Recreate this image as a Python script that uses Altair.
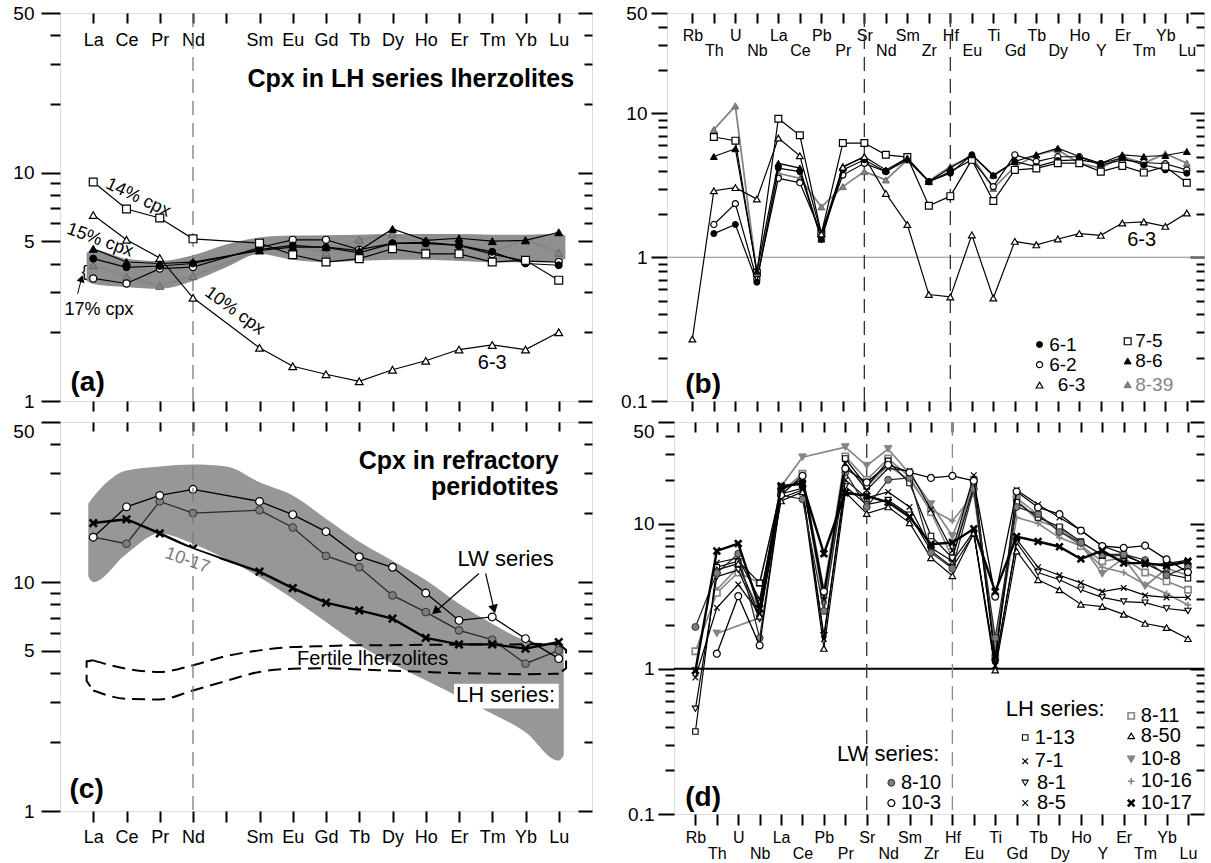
import altair as alt
import pandas as pd

FONT = "Liberation Sans"
BLACK = "#000000"
GRAY = "#858585"
BAND = "#8f8f8f"
FIELD = "#979797"

# ---------------- element lists ----------------
REE = ["La", "Ce", "Pr", "Nd", "Pm", "Sm", "Eu", "Gd", "Tb", "Dy", "Ho", "Er", "Tm", "Yb", "Lu"]
REE_SHOWN = ["La", "Ce", "Pr", "Nd", "", "Sm", "Eu", "Gd", "Tb", "Dy", "Ho", "Er", "Tm", "Yb", "Lu"]
SPIDER = ["Rb", "Th", "U", "Nb", "La", "Ce", "Pb", "Pr", "Sr", "Nd", "Sm", "Zr",
          "Hf", "Eu", "Ti", "Gd", "Tb", "Dy", "Ho", "Y", "Er", "Tm", "Yb", "Lu"]

Y_MAJOR_A = [1, 5, 10, 50]
Y_MINOR_A = [2, 3, 4, 6, 7, 8, 9, 20, 30, 40]
Y_MAJOR_B = [0.1, 1, 10, 50]
Y_MINOR_B = [0.2, 0.3, 0.4, 0.5, 0.6, 0.7, 0.8, 0.9, 2, 3, 4, 5, 6, 7, 8, 9, 20, 30, 40]

# ---------------- panel (a): cpx in LH lherzolites, REE ----------------
a_6_1 = [4.2, 3.85, 3.9, 4.0, None, 4.6, 4.8, 4.7, 4.45, 4.9, 4.9, 4.8, 4.5, 4.0, 3.93]
a_6_2 = [3.44, 3.27, 3.8, 3.86, None, 4.7, 5.08, 5.08, 4.6, 4.9, 4.95, 4.8, 4.4, 4.1, 4.06]
a_6_3 = [6.52, 5.08, 4.23, 2.83, None, 1.71, 1.42, 1.31, 1.22, 1.37, 1.50, 1.68, 1.76, 1.68, 2.0]
a_7_5 = [9.1, 6.93, 6.33, 5.13, None, 4.91, 4.37, 4.06, 4.2, 4.64, 4.41, 4.41, 4.06, 4.13, 3.38]
a_8_6 = [4.64, 4.06, 4.0, 4.06, None, 4.56, 4.72, 4.72, 4.56, 5.67, 5.05, 5.16, 5.01, 5.05, 5.48]
a_8_39 = [3.93, 3.5, 3.19, 3.52, None, 4.6, 4.8, 4.46, 5.08, 5.4, 4.8, 4.9, 4.5, 5.1, 4.46]
a_band_x = [-0.2, 0, 1, 2, 3, 4, 5, 6, 7, 8, 9, 10, 11, 12, 13, 14, 14.2]
a_band_lo = [3.35, 3.25, 3.15, 3.1, 3.35, 3.85, 4.4, 4.15, 4.05, 4.1, 4.15, 4.15, 4.1, 4.05, 4.05, 4.1, 4.2]
a_band_hi = [4.45, 4.6, 4.2, 4.1, 4.35, 4.85, 5.2, 5.3, 5.32, 5.35, 5.38, 5.38, 5.38, 5.35, 5.35, 5.4, 5.3]

# ---------------- panel (b): cpx in LH lherzolites, spider ----------------
b_6_1 = [None, 1.46, 1.69, 0.67, 4.17, 3.94, 1.33, 4.05, 4.76, 3.94, 4.76, 3.36, 3.84, 5.16, 3.68, 4.63, 4.27, 4.7, 4.76, 4.5, 4.9, 4.38, 4.05, 3.84]
b_6_2 = [None, 1.69, 2.36, 0.70, 3.54, 3.3, 1.46, 3.73, 4.5, 3.94, 4.9, 3.36, 3.94, 4.76, 3.1, 5.16, 4.63, 5.0, 5.0, 4.38, 4.76, 4.56, 4.47, 4.05]
b_6_3 = [0.27, 2.9, 3.05, 2.54, 6.75, 5.08, 1.45, 4.23, 5.0, 2.78, 1.69, 0.55, 0.53, 1.43, 0.52, 1.29, 1.22, 1.34, 1.46, 1.42, 1.73, 1.76, 1.64, 2.03]
b_7_5 = [None, 6.86, 6.47, 0.78, 9.2, 7.05, 1.46, 6.23, 6.23, 5.16, 4.97, 2.28, 2.66, 4.76, 2.46, 4.05, 4.15, 4.51, 4.51, 3.94, 4.32, 3.88, 4.27, 3.3]
b_8_6 = [None, 5.02, 5.69, 0.80, 4.5, 4.17, 1.34, 4.27, 5.0, 4.05, 4.9, 3.36, 4.17, 5.16, 3.73, 4.63, 5.16, 5.74, 5.02, 4.5, 5.16, 5.02, 5.1, 5.44]
b_8_39 = [None, 7.73, 11.3, 0.76, 3.84, 3.54, 2.24, 3.1, 3.94, 3.45, 4.76, 3.39, 4.27, 5.02, 3.01, 4.27, 5.16, 5.6, 4.51, 4.17, 5.0, 4.51, 5.25, 4.51]

# ---------------- panel (c): cpx in refractory peridotites, REE ----------------
c_8_10 = [15.7, 14.7, 22.5, 20.0, None, 20.6, 17.3, 13.0, 11.6, 8.74, 7.39, 6.15, 5.6, 4.4, 5.03]
c_10_3 = [15.7, 21.3, 23.9, 25.4, None, 22.5, 19.7, 16.6, 12.9, 11.6, 8.95, 6.8, 7.04, 5.66, 4.63]
c_10_17 = [18.1, 18.8, 16.3, 14.0, None, 11.1, 9.41, 8.13, 7.52, 6.92, 5.7, 5.34, 5.34, 5.12, 5.47]
c_field_x = [-0.15, 0, 1, 2, 3, 4, 5, 6, 7, 8, 9, 10, 11, 12, 13, 14, 14.15]
c_field_lo = [10.6, 10.0, 13.3, 16.3, 14.7, 12.6, 10.5, 8.46, 6.69, 5.29, 4.4, 3.72, 3.15, 2.66, 2.21, 1.66, 1.75]
c_field_hi = [22.0, 23.5, 30.7, 32.0, 32.6, 32.0, 27.3, 23.9, 18.9, 15.0, 12.4, 10.2, 8.04, 6.58, 5.56, 5.29, 5.05]
c_fert_x = [0, 1, 2, 3, 4, 5, 6, 7, 8, 9, 10, 11, 12, 13, 14]
c_fert_hi = [4.55, 4.18, 4.05, 4.33, 4.75, 5.03, 5.2, 5.25, 5.3, 5.3, 5.32, 5.33, 5.33, 5.35, 5.37]
c_fert_lo = [3.36, 3.09, 3.07, 3.36, 3.7, 4.05, 4.18, 4.2, 4.15, 4.1, 4.05, 4.0, 3.98, 3.96, 3.98]
c_fert_capL_x = [0, -0.2, -0.2, 0]
c_fert_capL_y = [4.55, 4.5, 3.7, 3.36]
c_fert_capR_x = [14, 14.22, 14.22, 14]
c_fert_capR_y = [5.37, 5.05, 4.2, 3.98]

# ---------------- panel (d): cpx in refractory peridotites, spider ----------------
d_8_10 = [1.94, 4.56, 6.2, 1.63, 15.7, 14.7, 2.5, 22.5, 13.0, 20.0, 20.6, 6.3, 4.9, 17.3, 1.63, 13.0, 11.6, 8.74, 7.39, 6.1, 6.15, 5.6, 4.4, 5.03]
d_10_3 = [None, 1.27, 3.16, 1.45, 15.7, 21.3, 3.4, 23.9, 19.2, 25.4, 22.5, 20.6, 21.3, 19.7, 3.14, 16.6, 12.9, 11.6, 8.95, 7.0, 6.8, 7.04, 5.66, 4.63]
d_1_13 = [0.37, 5.0, 5.5, 3.9, 17.5, 19.0, 3.2, 28.0, 18.0, 27.0, 19.0, 8.2, 5.8, 18.0, 1.15, 14.0, 11.0, 9.5, 7.5, 6.0, 6.0, 5.3, 4.5, 4.2]
d_7_1 = [None, 5.37, 5.8, 3.0, 17.0, 20.0, 3.0, 26.0, 17.0, 24.0, 23.0, 12.5, 6.5, 21.5, 1.2, 17.0, 13.5, 11.0, 9.0, 7.0, 6.2, 5.2, 5.3, 5.6]
d_8_1 = [0.53, 4.3, 4.8, 2.2, 15.0, 17.0, 1.7, 18.0, 13.5, 14.5, 11.5, 6.5, 5.0, 8.5, 1.1, 7.4, 4.6, 4.1, 3.5, 3.1, 2.9, 2.85, 2.6, 2.5]
d_8_5 = [0.87, 2.63, 3.8, 2.4, 16.0, 17.5, 1.6, 20.0, 15.0, 16.5, 13.0, 6.8, 5.5, 8.8, 1.05, 7.8, 5.0, 4.4, 3.9, 3.4, 3.6, 3.2, 3.1, 3.1]
d_8_11 = [1.32, 3.33, 4.6, 3.9, 16.5, 22.0, 3.5, 29.0, 20.0, 28.0, 21.0, 12.0, 5.8, 20.0, 1.2, 15.0, 11.5, 9.0, 7.0, 5.5, 5.8, 4.6, 4.0, 3.5]
d_8_50 = [None, 4.8, 5.3, 2.3, 14.3, 16.5, 1.38, 16.4, 11.7, 13.0, 10.1, 5.8, 4.37, 8.6, 0.98, 6.45, 4.1, 3.49, 2.78, 2.68, 2.37, 2.05, 1.92, 1.61]
d_10_8 = [None, 1.75, None, 2.24, 18.0, 28.6, None, 33.6, 25.0, 32.6, 22.0, 13.6, 8.2, 19.0, 1.3, 14.5, 10.5, 9.3, 7.2, 4.5, 5.8, 3.7, 4.9, 4.4]
d_10_16 = [None, 3.5, 5.0, 2.5, 17.0, 20.0, 2.8, 25.0, 18.0, 25.0, 20.0, 12.5, 10.4, 16.0, 1.4, 11.0, 10.0, 8.0, 7.0, 5.0, 4.6, 3.8, 3.3, 2.75]
d_10_17 = [0.97, 6.47, 7.28, 2.6, 18.1, 18.8, 6.2, 16.3, 15.5, 14.0, 11.1, 7.2, 7.4, 9.2, 3.4, 8.13, 7.52, 6.92, 5.7, 6.5, 5.34, 5.34, 5.12, 5.47]

# ---------------- marker styles ----------------
X_PATH = "M-1,-1L1,1M-1,1L1,-1"
PLUS_PATH = "M-1,0L1,0M0,-1L0,1"
PATCH_PATH = "M-1,-0.36L1,-0.36L1,0.36L-1,0.36Z"
STYLE = {
    "6-1": dict(shape="circle", fill=BLACK, stroke=BLACK, sw=1.0, size=48, line=BLACK, lw=1.2),
    "6-2": dict(shape="circle", fill="white", stroke=BLACK, sw=1.2, size=50, line=BLACK, lw=1.2),
    "6-3": dict(shape="triangle-up", fill="white", stroke=BLACK, sw=1.2, size=60, line=BLACK, lw=1.2),
    "7-5": dict(shape="square", fill="white", stroke=BLACK, sw=1.2, size=62, line=BLACK, lw=1.2),
    "8-6": dict(shape="triangle-up", fill=BLACK, stroke=BLACK, sw=1.0, size=64, line=BLACK, lw=1.2),
    "8-39": dict(shape="triangle-up", fill=GRAY, stroke="#666666", sw=1.0, size=64, line=GRAY, lw=1.8),
    "8-10": dict(shape="circle", fill="#7d7d7d", stroke="#333333", sw=1.0, size=60, line="#2a2a2a", lw=1.3),
    "10-3": dict(shape="circle", fill="white", stroke=BLACK, sw=1.2, size=60, line=BLACK, lw=1.3),
    "10-17": dict(shape=X_PATH, fill="transparent", stroke=BLACK, sw=2.6, size=55, line=BLACK, lw=2.4),
    "1-13": dict(shape="square", fill="white", stroke=BLACK, sw=1.1, size=38, line=BLACK, lw=1.2),
    "7-1": dict(shape=X_PATH, fill="transparent", stroke=BLACK, sw=1.2, size=40, line=BLACK, lw=1.2),
    "8-1": dict(shape="triangle-down", fill="white", stroke=BLACK, sw=1.1, size=48, line=BLACK, lw=1.2),
    "8-5": dict(shape=X_PATH, fill="transparent", stroke=BLACK, sw=1.2, size=40, line=BLACK, lw=1.2),
    "8-11": dict(shape="square", fill="white", stroke=GRAY, sw=1.6, size=50, line=GRAY, lw=1.6),
    "8-50": dict(shape="triangle-up", fill="white", stroke=BLACK, sw=1.2, size=52, line=BLACK, lw=1.2),
    "10-8": dict(shape="triangle-down", fill=GRAY, stroke=GRAY, sw=1.0, size=75, line=GRAY, lw=1.7),
    "10-16": dict(shape=PLUS_PATH, fill="transparent", stroke=GRAY, sw=1.6, size=55, line=GRAY, lw=1.6),
}


# ---------------- helpers ----------------
def xsc(lo, hi):
    return alt.Scale(domain=[lo, hi], nice=False, zero=False)


def ysc(lo, hi):
    return alt.Scale(type="log", domain=[lo, hi], nice=False)


AX = dict(domain=False, grid=False, labelFont=FONT, labelColor=BLACK, ticks=False, tickSize=0,
          labelOverlap=False, labelFlush=False, labelBound=False)


def lab_axis(orient, values, fontsize, pad=0, offset=0, expr=None, fmt=None, baseline=None):
    kw = dict(AX)
    kw.update(orient=orient, values=list(values), labelFontSize=fontsize, labelPadding=pad)
    if offset:
        kw["offset"] = offset
    if expr:
        kw["labelExpr"] = expr
    if fmt:
        kw["format"] = fmt
    if baseline:
        kw["labelBaseline"] = baseline
    return alt.Axis(**kw)


def axis_layer(xs, ys, xaxis=None, yaxis=None, x0=0.0, y0=1.0):
    df = pd.DataFrame({"x": [x0], "y": [y0]})
    return alt.Chart(df).mark_point(opacity=0, size=1).encode(
        x=alt.X("x:Q", scale=xs, axis=xaxis, title=None),
        y=alt.Y("y:Q", scale=ys, axis=yaxis, title=None),
    )


def frame_ticks(xs, ys, xvals, ymaj, ymin, lmaj, lmin, bottom, top, width=2):
    """Tick marks around the frame as label-less axes (outward left/bottom, inward top/right)."""
    base = dict(domain=False, grid=False, labels=False, ticks=True, tickColor=BLACK, tickWidth=width)
    return [
        axis_layer(xs, ys, alt.Axis(orient="bottom", values=list(xvals), tickSize=bottom, **base),
                   alt.Axis(orient="left", values=list(ymaj), tickSize=lmaj, **base)),
        axis_layer(xs, ys, alt.Axis(orient="top", values=list(xvals), tickSize=top, offset=-top, **base),
                   alt.Axis(orient="left", values=list(ymin), tickSize=lmin, **base)),
        axis_layer(xs, ys, None, alt.Axis(orient="right", values=list(ymaj), tickSize=14, offset=-14, **base)),
        axis_layer(xs, ys, None, alt.Axis(orient="right", values=list(ymin), tickSize=8, offset=-8, **base)),
    ]


def enc_xy(xs, ys, xf="x", yf="y"):
    return dict(x=alt.X(f"{xf}:Q", scale=xs, axis=None, title=None),
                y=alt.Y(f"{yf}:Q", scale=ys, axis=None, title=None))


def series(values, st, xs, ys, k=1.0):
    df = pd.DataFrame({"x": [i for i, v in enumerate(values) if v is not None],
                       "y": [v for v in values if v is not None]})
    line = alt.Chart(df).mark_line(color=st["line"], strokeWidth=st["lw"]).encode(**enc_xy(xs, ys))
    pts = alt.Chart(df).mark_point(shape=st["shape"], filled=True, fill=st["fill"], stroke=st["stroke"],
                                   strokeWidth=st["sw"], size=st["size"] * k, opacity=1).encode(**enc_xy(xs, ys))
    return [line, pts]


def marker(x, y, st, xs, ys, k=1.0):
    df = pd.DataFrame({"x": [x], "y": [y]})
    return alt.Chart(df).mark_point(shape=st["shape"], filled=True, fill=st["fill"], stroke=st["stroke"],
                                    strokeWidth=st["sw"], size=st["size"] * k, opacity=1).encode(**enc_xy(xs, ys))


def label(x, y, t, xs, ys, size=18, align="center", angle=0, weight="normal", color=BLACK, baseline="middle"):
    df = pd.DataFrame({"x": [x], "y": [y], "t": [t]})
    return alt.Chart(df).mark_text(font=FONT, fontSize=size, align=align, baseline=baseline, angle=angle,
                                   fontWeight=weight, color=color).encode(text="t:N", **enc_xy(xs, ys))


def seg(x1, y1, x2, y2, xs, ys, color=BLACK, width=1.2):
    df = pd.DataFrame({"x": [x1], "y": [y1], "x2": [x2], "y2": [y2]})
    return alt.Chart(df).mark_rule(color=color, strokeWidth=width).encode(
        x2="x2:Q", y2="y2:Q", **enc_xy(xs, ys))


def arrowhead(x, y, ang, xs, ys, size=40):
    df = pd.DataFrame({"x": [x], "y": [y]})
    return alt.Chart(df).mark_point(shape="triangle-up", filled=True, fill=BLACK, stroke=BLACK,
                                    size=size, angle=ang, opacity=1).encode(**enc_xy(xs, ys))


def vrules(positions, xs, color, width=1.3):
    df = pd.DataFrame({"x": positions})
    return alt.Chart(df).mark_rule(color=color, strokeWidth=width, strokeDash=[14, 8]).encode(
        x=alt.X("x:Q", scale=xs, axis=None))


def hrule(value, ys, color, width):
    df = pd.DataFrame({"y": [value]})
    return alt.Chart(df).mark_rule(color=color, strokeWidth=width).encode(
        y=alt.Y("y:Q", scale=ys, axis=None))


def names_expr(names, keep=None):
    items = []
    for i, n in enumerate(names):
        items.append(n if (keep is None or keep(i)) else "")
    return "[" + ",".join("'" + s + "'" for s in items) + "][datum.value]"


REE_EXPR = names_expr(REE_SHOWN)
SP_UP = names_expr(SPIDER, lambda i: i % 2 == 0)
SP_LOW = names_expr(SPIDER, lambda i: i % 2 == 1)

# ======================= panel (a) =======================
WA, HA = 532, 388
xa, ya = xsc(-1, 15), ysc(1, 50)
band_df = pd.DataFrame({"x": a_band_x, "lo": a_band_lo, "hi": a_band_hi})
layers_a = [
    alt.Chart(band_df).mark_area(color=BAND, interpolate="monotone", opacity=1).encode(
        x=alt.X("x:Q", scale=xa, axis=None), y=alt.Y("lo:Q", scale=ya, axis=None), y2="hi:Q"),
    vrules([REE.index("Nd")], xa, "#7a7a7a"),
]
for name, vals in [("8-39", a_8_39), ("6-2", a_6_2), ("6-1", a_6_1), ("8-6", a_8_6), ("7-5", a_7_5), ("6-3", a_6_3)]:
    layers_a += series(vals, STYLE[name], xa, ya)
layers_a += [
    label(14.46, 25.8, "Cpx in LH series lherzolites", xa, ya, size=25, align="right", weight="bold"),
    label(1.35, 7.75, "14% cpx", xa, ya, size=18, angle=25),
    label(0.2, 5.05, "15% cpx", xa, ya, size=18, angle=20),
    label(0.17, 2.5, "17% cpx", xa, ya, size=18),
    label(4.25, 2.48, "10% cpx", xa, ya, size=18, angle=36),
    label(12.0, 1.47, "6-3", xa, ya, size=20),
    label(-0.27, 3.68, "{", xa, ya, size=17),
    seg(-0.47, 2.95, -0.36, 3.4, xa, ya, width=1.0),
    arrowhead(-0.355, 3.42, 17, xa, ya, size=22),
    label(-0.17, 1.2, "(a)", xa, ya, size=28, weight="bold"),
]
layers_a += frame_ticks(xa, ya, range(15), Y_MAJOR_A, Y_MINOR_A, 19, 10, 10, 10)
layers_a += [
    axis_layer(xa, ya, None, lab_axis("left", Y_MAJOR_A, 19, pad=26, fmt="~g")),
    axis_layer(xa, ya, lab_axis("top", range(15), 18, offset=-36, expr=REE_EXPR), None),
]
panel_a = alt.layer(*layers_a).properties(width=WA, height=HA).resolve_axis(x="independent", y="independent")

# ======================= panel (b) =======================
WB, HB = 537, 388
xb, yb = xsc(-1.18, 23.8), ysc(0.1, 50)
layers_b = [
    hrule(1, yb, "#8a8a8a", 1.2),
    vrules([SPIDER.index("Sr"), SPIDER.index("Hf")], xb, "#333333"),
]
for name, vals in [("8-39", b_8_39), ("6-2", b_6_2), ("6-1", b_6_1), ("7-5", b_7_5), ("8-6", b_8_6), ("6-3", b_6_3)]:
    layers_b += series(vals, STYLE[name], xb, yb, k=0.75)
legend_b = [("6-1", 16.15, 0.247, 16.6), ("6-2", 16.15, 0.179, 16.6), ("6-3", 16.15, 0.129, 17.0),
            ("7-5", 20.25, 0.26, 20.6), ("8-6", 20.25, 0.19, 20.6), ("8-39", 20.25, 0.13, 20.6)]
for name, mx, my, tx in legend_b:
    layers_b.append(marker(mx, my, STYLE[name], xb, yb, k=0.75))
    layers_b.append(label(tx, my, name, xb, yb, size=19, align="left",
                          color=(GRAY if name == "8-39" else BLACK)))
layers_b += [
    label(20.9, 1.31, "6-3", xb, yb, size=20),
    label(0.5, 0.13, "(b)", xb, yb, size=28, weight="bold"),
]
layers_b += frame_ticks(xb, yb, range(24), Y_MAJOR_B, Y_MINOR_B, 16, 9, 10, 10)
layers_b += [
    axis_layer(xb, yb, lab_axis("top", range(24), 16, offset=-30, expr=SP_UP),
               lab_axis("left", Y_MAJOR_B, 19, pad=20, fmt="~g")),
    axis_layer(xb, yb, lab_axis("top", range(24), 16, offset=-45, expr=SP_LOW), None),
]
panel_b = alt.layer(*layers_b).properties(width=WB, height=HB).resolve_axis(x="independent", y="independent")

# ======================= panel (c) =======================
WC, HC = 532, 389
xc, yc = xsc(-1, 15), ysc(1, 50)
field_df = pd.DataFrame({"x": c_field_x, "lo": c_field_lo, "hi": c_field_hi})
fert_df = pd.DataFrame({"x": c_fert_x * 2, "y": c_fert_hi + c_fert_lo,
                        "part": ["upper"] * len(c_fert_x) + ["lower"] * len(c_fert_x)})
cap_df = pd.DataFrame({"x": c_fert_capL_x + c_fert_capR_x, "y": c_fert_capL_y + c_fert_capR_y,
                       "part": ["L"] * 4 + ["R"] * 4, "o": list(range(4)) * 2})
box_df = pd.DataFrame({"x": [10.85], "x2": [14.0], "y": [2.8], "y2": [3.6]})
patch_df = pd.DataFrame({"x": [2.85], "y": [12.7]})
layers_c = [
    alt.Chart(field_df).mark_area(color=FIELD, interpolate="monotone", opacity=1).encode(
        x=alt.X("x:Q", scale=xc, axis=None), y=alt.Y("lo:Q", scale=yc, axis=None), y2="hi:Q"),
    alt.Chart(fert_df).mark_line(color=BLACK, strokeWidth=2, strokeDash=[13, 7], interpolate="monotone").encode(
        detail="part:N", **enc_xy(xc, yc)),
    alt.Chart(cap_df).mark_line(color=BLACK, strokeWidth=2, strokeDash=[13, 7]).encode(
        detail="part:N", order="o:Q", **enc_xy(xc, yc)),
    alt.Chart(box_df).mark_rect(color="white").encode(
        x=alt.X("x:Q", scale=xc, axis=None), x2="x2:Q", y=alt.Y("y:Q", scale=yc, axis=None), y2="y2:Q"),
]
for name, vals in [("8-10", c_8_10), ("10-3", c_10_3), ("10-17", c_10_17)]:
    layers_c += series(vals, STYLE[name], xc, yc)
layers_c += [
    alt.Chart(patch_df).mark_point(shape=PATCH_PATH, filled=True, fill="white", strokeWidth=0,
                                   size=3400, angle=20, opacity=1).encode(**enc_xy(xc, yc)),
    vrules([REE.index("Nd")], xc, "#7a7a7a"),
    label(14.0, 33.9, "Cpx in refractory", xc, yc, size=25, align="right", weight="bold"),
    label(14.0, 26.0, "peridotites", xc, yc, size=25, align="right", weight="bold"),
    label(12.4, 12.6, "LW series", xc, yc, size=22),
    seg(11.6, 10.9, 10.35, 7.55, xc, yc),
    arrowhead(10.3, 7.47, 229, xc, yc, size=40),
    seg(11.8, 10.9, 12.04, 7.75, xc, yc),
    arrowhead(12.05, 7.65, 166, xc, yc, size=40),
    label(8.4, 4.63, "Fertile lherzolites", xc, yc, size=20),
    label(12.4, 3.2, "LH series:", xc, yc, size=22),
    label(2.83, 12.4, "10-17", xc, yc, size=18, angle=20, color="#7a7a7a"),
    label(-0.2, 1.23, "(c)", xc, yc, size=28, weight="bold"),
]
layers_c += frame_ticks(xc, yc, range(15), Y_MAJOR_A, Y_MINOR_A, 19, 10, 11, 9)
layers_c += [
    axis_layer(xc, yc, lab_axis("bottom", range(15), 18, pad=17, expr=REE_EXPR),
               lab_axis("left", [1, 5, 10], 19, pad=26, fmt="~g")),
    axis_layer(xc, yc, None, lab_axis("left", [50], 19, pad=26, fmt="~g", baseline="top")),
]
panel_c = alt.layer(*layers_c).properties(width=WC, height=HC).resolve_axis(x="independent", y="independent")

# ======================= panel (d) =======================
WD, HD = 530, 392
xd, yd = xsc(-1, 23.75), ysc(0.1, 50)
layers_d = [
    hrule(1, yd, BLACK, 2),
    vrules([SPIDER.index("Sr")], xd, "#333333"),
    vrules([SPIDER.index("Hf")], xd, "#8a8a8a"),
]
order_d = [("10-16", d_10_16), ("8-11", d_8_11), ("10-8", d_10_8), ("1-13", d_1_13), ("7-1", d_7_1),
           ("8-1", d_8_1), ("8-5", d_8_5), ("8-50", d_8_50), ("8-10", d_8_10), ("10-3", d_10_3),
           ("10-17", d_10_17)]
for name, vals in order_d:
    layers_d += series(vals, STYLE[name], xd, yd, k=0.8)
legend_d = [("1-13", 15.4, 0.336, 15.85), ("7-1", 15.4, 0.231, 15.85), ("8-1", 15.4, 0.164, 15.95),
            ("8-5", 15.4, 0.119, 15.95),
            ("8-11", 20.35, 0.474, 20.8), ("8-50", 20.35, 0.345, 20.8), ("10-8", 20.35, 0.238, 20.8),
            ("10-16", 20.35, 0.168, 20.8), ("10-17", 20.35, 0.119, 20.8),
            ("8-10", 9.15, 0.164, 9.6), ("10-3", 9.15, 0.119, 9.6)]
for name, mx, my, tx in legend_d:
    layers_d.append(marker(mx, my, STYLE[name], xd, yd, k=0.8))
    layers_d.append(label(tx, my, name, xd, yd, size=20, align="left"))
layers_d += [
    label(16.8, 0.53, "LH series:", xd, yd, size=22),
    label(9.0, 0.257, "LW series:", xd, yd, size=22),
    label(0.36, 0.129, "(d)", xd, yd, size=28, weight="bold"),
]
layers_d += frame_ticks(xd, yd, range(24), Y_MAJOR_B, Y_MINOR_B, 16, 9, 11, 10)
layers_d += [
    axis_layer(xd, yd, lab_axis("bottom", range(24), 16, pad=15, expr=SP_UP),
               lab_axis("left", [0.1, 1, 10], 19, pad=20, fmt="~g")),
    axis_layer(xd, yd, lab_axis("bottom", range(24), 16, pad=31, expr=SP_LOW),
               lab_axis("left", [50], 19, pad=20, fmt="~g", baseline="top")),
]
panel_d = alt.layer(*layers_d).properties(width=WD, height=HD).resolve_axis(x="independent", y="independent")

# ======================= assemble =======================
row1 = alt.hconcat(panel_a, panel_b, spacing=26)
row2 = alt.hconcat(panel_c, panel_d, spacing=33)
chart = alt.vconcat(row1, row2, spacing=7).properties(
    padding={"left": 12, "top": 3, "right": 0, "bottom": 0},
    background="white",
).configure_view(stroke=BLACK, strokeWidth=1.8).configure(font=FONT)

chart.save("out.html", embed_options={"renderer": "svg", "actions": False})
